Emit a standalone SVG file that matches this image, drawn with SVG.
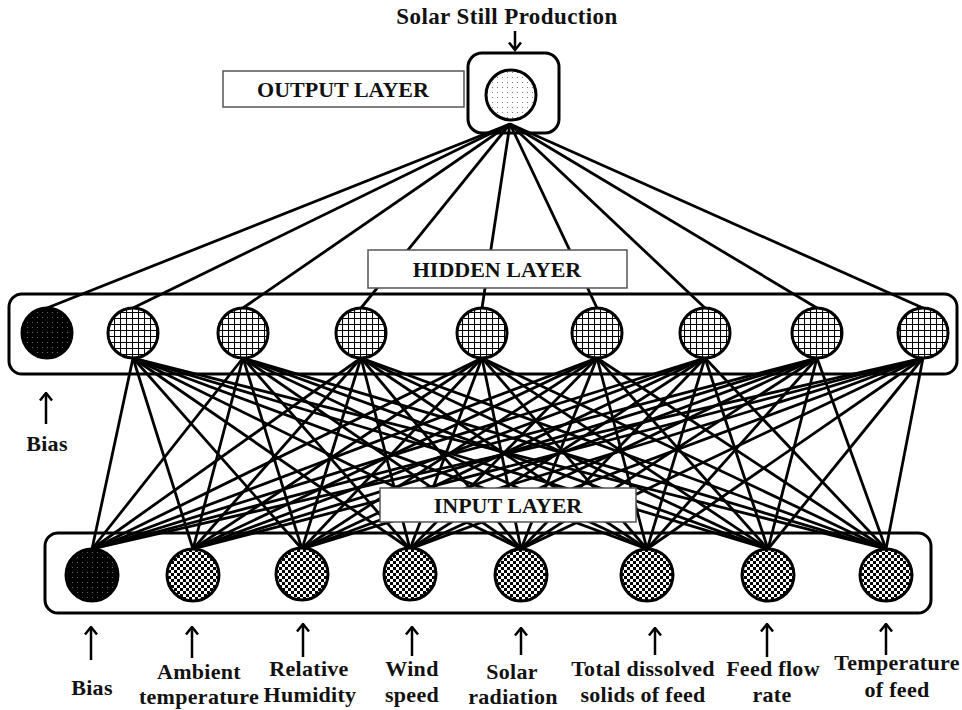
<svg xmlns="http://www.w3.org/2000/svg" width="962" height="710" viewBox="0 0 962 710">
<style>
.box{fill:none;stroke:#000;stroke-width:3}
.lbl{fill:#fff;stroke:#555;stroke-width:1.5}
.t{font-family:"Liberation Serif","Times New Roman",serif;font-weight:bold;fill:#111;text-anchor:middle}
.big{font-size:22px}
.ttl{font-size:23px;letter-spacing:0.4px}
.sm{font-size:22px;letter-spacing:0.3px}
.cn line{stroke:#000;stroke-width:2.8}
.nd{stroke:#000;stroke-width:3}
.ar{stroke:#000;stroke-width:2.5;fill:none;marker-end:url(#ah)}
</style>
<defs>
<marker id="ah" markerUnits="userSpaceOnUse" markerWidth="10" markerHeight="14" refX="8.5" refY="7" orient="auto" viewBox="0 0 10 14">
<path d="M1,1 L8.5,7 L1,13" fill="none" stroke="#000" stroke-width="2.5"/>
</marker>
<pattern id="dots" width="5" height="5" patternUnits="userSpaceOnUse">
<rect width="5" height="5" fill="#fff"/><circle cx="2.5" cy="2.5" r="0.6" fill="#666"/>
</pattern>
<pattern id="bdots" width="5" height="5" patternUnits="userSpaceOnUse">
<rect width="5" height="5" fill="#000"/><circle cx="2.5" cy="2.5" r="0.6" fill="#777"/>
</pattern>
<pattern id="grid" width="6" height="6" patternUnits="userSpaceOnUse">
<rect width="6" height="6" fill="#fff"/><path d="M0,0.5H6M0.5,0V6" stroke="#000" stroke-width="1.1"/>
</pattern>
<pattern id="chk" width="6" height="6" patternUnits="userSpaceOnUse">
<rect width="6" height="6" fill="#fff"/><rect width="3" height="3" fill="#000"/><rect x="3" y="3" width="3" height="3" fill="#000"/>
</pattern>
</defs>
<rect width="962" height="710" fill="#fff"/>

<g id="layer-boxes">
<rect class="box" x="468" y="53" width="91" height="80" rx="14"/>
<rect class="box" x="9" y="294" width="948" height="80" rx="13"/>
<rect class="box" x="45" y="533" width="886" height="80" rx="13"/>
</g>

<g id="connectors" class="cn">
<line x1="510" y1="124" x2="47" y2="308"/>
<line x1="510" y1="124" x2="133" y2="308"/>
<line x1="510" y1="124" x2="243" y2="308"/>
<line x1="510" y1="124" x2="361" y2="308"/>
<line x1="510" y1="124" x2="482" y2="308"/>
<line x1="510" y1="124" x2="597" y2="308"/>
<line x1="510" y1="124" x2="705" y2="308"/>
<line x1="510" y1="124" x2="817" y2="308"/>
<line x1="510" y1="124" x2="923" y2="308"/>

<g id="in-bias">
<line x1="92" y1="549" x2="133" y2="358"/><line x1="92" y1="549" x2="243" y2="358"/><line x1="92" y1="549" x2="361" y2="358"/><line x1="92" y1="549" x2="482" y2="358"/><line x1="92" y1="549" x2="597" y2="358"/><line x1="92" y1="549" x2="705" y2="358"/><line x1="92" y1="549" x2="817" y2="358"/><line x1="92" y1="549" x2="923" y2="358"/>
</g>
<g id="in-ambient">
<line x1="193" y1="549" x2="133" y2="358"/><line x1="193" y1="549" x2="243" y2="358"/><line x1="193" y1="549" x2="361" y2="358"/><line x1="193" y1="549" x2="482" y2="358"/><line x1="193" y1="549" x2="597" y2="358"/><line x1="193" y1="549" x2="705" y2="358"/><line x1="193" y1="549" x2="817" y2="358"/><line x1="193" y1="549" x2="923" y2="358"/>
</g>
<g id="in-humidity">
<line x1="302" y1="549" x2="133" y2="358"/><line x1="302" y1="549" x2="243" y2="358"/><line x1="302" y1="549" x2="361" y2="358"/><line x1="302" y1="549" x2="482" y2="358"/><line x1="302" y1="549" x2="597" y2="358"/><line x1="302" y1="549" x2="705" y2="358"/><line x1="302" y1="549" x2="817" y2="358"/><line x1="302" y1="549" x2="923" y2="358"/>
</g>
<g id="in-wind">
<line x1="410" y1="549" x2="133" y2="358"/><line x1="410" y1="549" x2="243" y2="358"/><line x1="410" y1="549" x2="361" y2="358"/><line x1="410" y1="549" x2="482" y2="358"/><line x1="410" y1="549" x2="597" y2="358"/><line x1="410" y1="549" x2="705" y2="358"/><line x1="410" y1="549" x2="817" y2="358"/><line x1="410" y1="549" x2="923" y2="358"/>
</g>
<g id="in-solar">
<line x1="521" y1="549" x2="133" y2="358"/><line x1="521" y1="549" x2="243" y2="358"/><line x1="521" y1="549" x2="361" y2="358"/><line x1="521" y1="549" x2="482" y2="358"/><line x1="521" y1="549" x2="597" y2="358"/><line x1="521" y1="549" x2="705" y2="358"/><line x1="521" y1="549" x2="817" y2="358"/><line x1="521" y1="549" x2="923" y2="358"/>
</g>
<g id="in-tds">
<line x1="647" y1="549" x2="133" y2="358"/><line x1="647" y1="549" x2="243" y2="358"/><line x1="647" y1="549" x2="361" y2="358"/><line x1="647" y1="549" x2="482" y2="358"/><line x1="647" y1="549" x2="597" y2="358"/><line x1="647" y1="549" x2="705" y2="358"/><line x1="647" y1="549" x2="817" y2="358"/><line x1="647" y1="549" x2="923" y2="358"/>
</g>
<g id="in-flow">
<line x1="768" y1="549" x2="133" y2="358"/><line x1="768" y1="549" x2="243" y2="358"/><line x1="768" y1="549" x2="361" y2="358"/><line x1="768" y1="549" x2="482" y2="358"/><line x1="768" y1="549" x2="597" y2="358"/><line x1="768" y1="549" x2="705" y2="358"/><line x1="768" y1="549" x2="817" y2="358"/><line x1="768" y1="549" x2="923" y2="358"/>
</g>
<g id="in-temp">
<line x1="886" y1="549" x2="133" y2="358"/><line x1="886" y1="549" x2="243" y2="358"/><line x1="886" y1="549" x2="361" y2="358"/><line x1="886" y1="549" x2="482" y2="358"/><line x1="886" y1="549" x2="597" y2="358"/><line x1="886" y1="549" x2="705" y2="358"/><line x1="886" y1="549" x2="817" y2="358"/><line x1="886" y1="549" x2="923" y2="358"/>
</g>
</g>

<g id="output-node"><circle class="nd" cx="511" cy="95" r="25" fill="url(#dots)"/></g>

<g id="hidden-bias"><circle class="nd" cx="47" cy="333" r="25" fill="url(#bdots)"/></g>
<g id="hidden-1"><circle class="nd" cx="133" cy="333" r="25" fill="url(#grid)"/></g>
<g id="hidden-2"><circle class="nd" cx="243" cy="333" r="25" fill="url(#grid)"/></g>
<g id="hidden-3"><circle class="nd" cx="361" cy="333" r="25" fill="url(#grid)"/></g>
<g id="hidden-4"><circle class="nd" cx="482" cy="333" r="25" fill="url(#grid)"/></g>
<g id="hidden-5"><circle class="nd" cx="597" cy="333" r="25" fill="url(#grid)"/></g>
<g id="hidden-6"><circle class="nd" cx="705" cy="333" r="25" fill="url(#grid)"/></g>
<g id="hidden-7"><circle class="nd" cx="817" cy="333" r="25" fill="url(#grid)"/></g>
<g id="hidden-8"><circle class="nd" cx="923" cy="333" r="25" fill="url(#grid)"/></g>

<g id="input-bias"><circle class="nd" cx="92" cy="575" r="26" fill="url(#bdots)"/></g>
<g id="input-ambient"><circle class="nd" cx="193" cy="575" r="26" fill="url(#chk)"/></g>
<g id="input-humidity"><circle class="nd" cx="302" cy="574" r="26" fill="url(#chk)"/></g>
<g id="input-wind"><circle class="nd" cx="410" cy="574" r="26" fill="url(#chk)"/></g>
<g id="input-solar"><circle class="nd" cx="521" cy="575" r="26" fill="url(#chk)"/></g>
<g id="input-tds"><circle class="nd" cx="647" cy="575" r="26" fill="url(#chk)"/></g>
<g id="input-flow"><circle class="nd" cx="768" cy="575" r="26" fill="url(#chk)"/></g>
<g id="input-temp"><circle class="nd" cx="886" cy="575" r="26" fill="url(#chk)"/></g>

<g id="label-output">
<rect class="lbl" x="223" y="71" width="241" height="36"/>
<text class="t big" x="343" y="97">OUTPUT LAYER</text>
</g>
<g id="label-hidden">
<rect class="lbl" x="368" y="250" width="259" height="38"/>
<text class="t big" x="497" y="277">HIDDEN LAYER</text>
</g>
<g id="label-input">
<rect class="lbl" x="380" y="488" width="256" height="34"/>
<text class="t big" x="508" y="513">INPUT LAYER</text>
</g>

<g id="title">
<text class="t ttl" x="507" y="24">Solar Still Production</text>
<line class="ar" x1="515" y1="31" x2="515" y2="50"/>
</g>

<g id="hidden-bias-label">
<line class="ar" x1="46" y1="424" x2="46" y2="393"/>
<text class="t sm" x="47" y="451">Bias</text>
</g>

<g id="input-labels">
<line class="ar" x1="91" y1="660" x2="91" y2="627"/>
<text class="t sm" x="92" y="695">Bias</text>
<line class="ar" x1="192" y1="658" x2="192" y2="627"/>
<text class="t sm" x="199" y="679">Ambient</text>
<text class="t sm" x="199" y="704">temperature</text>
<line class="ar" x1="303" y1="657" x2="303" y2="624"/>
<text class="t sm" x="309" y="676">Relative</text>
<text class="t sm" x="310" y="702">Humidity</text>
<line class="ar" x1="412" y1="656" x2="412" y2="627"/>
<text class="t sm" x="412" y="676">Wind</text>
<text class="t sm" x="412" y="702">speed</text>
<line class="ar" x1="521" y1="655" x2="521" y2="628"/>
<text class="t sm" x="512" y="679">Solar</text>
<text class="t sm" x="513" y="704">radiation</text>
<line class="ar" x1="655" y1="655" x2="655" y2="628"/>
<text class="t sm" x="643" y="676">Total dissolved</text>
<text class="t sm" x="643" y="702">solids of feed</text>
<line class="ar" x1="767" y1="657" x2="767" y2="624"/>
<text class="t sm" x="773" y="676">Feed flow</text>
<text class="t sm" x="772" y="702">rate</text>
<line class="ar" x1="886" y1="655" x2="886" y2="624"/>
<text class="t sm" x="897" y="670">Temperature</text>
<text class="t sm" x="897" y="697">of feed</text>
</g>
</svg>
